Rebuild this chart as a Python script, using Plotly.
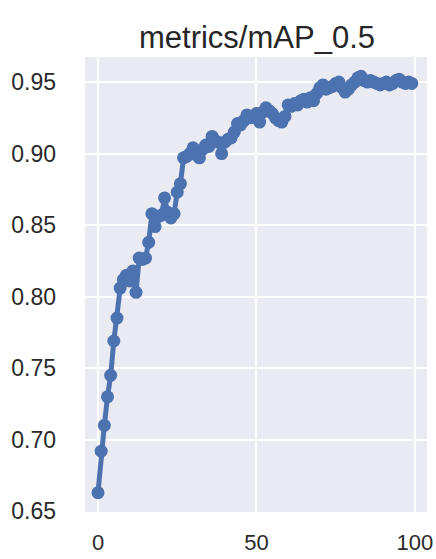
import plotly.graph_objects as go

epochs = list(range(100))
map50 = [
    0.663, 0.692, 0.710, 0.730, 0.745, 0.769, 0.785, 0.806, 0.812, 0.815,
    0.811, 0.818, 0.803, 0.827, 0.826, 0.827, 0.838, 0.858, 0.849, 0.856,
    0.857, 0.869, 0.859, 0.855, 0.858, 0.873, 0.879, 0.897, 0.898, 0.900,
    0.904, 0.899, 0.897, 0.903, 0.906, 0.905, 0.912, 0.909, 0.908, 0.900,
    0.908, 0.910, 0.911, 0.915, 0.921, 0.920, 0.923, 0.927, 0.925, 0.926,
    0.928, 0.922, 0.929, 0.932, 0.930, 0.928, 0.925, 0.923, 0.922, 0.926,
    0.934, 0.933, 0.935, 0.934, 0.937, 0.938, 0.936, 0.939, 0.937, 0.942,
    0.946, 0.948, 0.945, 0.946, 0.947, 0.949, 0.950, 0.946, 0.943, 0.945,
    0.948, 0.950, 0.953, 0.954, 0.951, 0.950, 0.951, 0.950, 0.949, 0.948,
    0.949, 0.950, 0.948, 0.949, 0.951, 0.952, 0.950, 0.949, 0.950, 0.949,
]
x_ticks = [0, 50, 100]
y_ticks = [0.65, 0.70, 0.75, 0.80, 0.85, 0.90, 0.95]
title_text = "metrics/mAP_0.5"

fig = go.Figure(
    go.Scatter(
        x=epochs, y=map50, mode="lines+markers",
        line=dict(color="#4C72B0", width=5),
        marker=dict(color="#4C72B0", size=13, line=dict(width=0)),
        showlegend=False,
    )
)

fig.update_layout(
    width=436, height=559,
    margin=dict(l=85, r=9, t=57, b=47, autoexpand=False),
    paper_bgcolor="white",
    plot_bgcolor="#EAEAF2",
    font=dict(family="Liberation Sans, Arial, sans-serif", color="#2a2a2a", size=23),
    title=dict(text=title_text, x=257 / 436, xanchor="center", y=1 - 37 / 559, yanchor="middle",
               font=dict(size=31, color="#262626")),
)
fig.update_xaxes(
    range=[-4.1, 103.8], tickvals=x_ticks, ticktext=[str(v) for v in x_ticks],
    showgrid=True, gridcolor="white", gridwidth=2, zeroline=False, showline=False,
    ticks="", ticklabelstandoff=15, automargin=False, tickfont=dict(size=22),
)
fig.update_yaxes(
    range=[0.6495, 0.9675], tickvals=y_ticks, ticktext=[f"{v:.2f}" for v in y_ticks],
    showgrid=True, gridcolor="white", gridwidth=2, zeroline=False, showline=False,
    ticks="", ticklabelstandoff=28, automargin=False, tickfont=dict(size=23),
)

fig.write_html(
    "out.html",
    config={"displayModeBar": False},
    post_script="document.body.style.margin='0';document.body.style.overflow='hidden';",
)
